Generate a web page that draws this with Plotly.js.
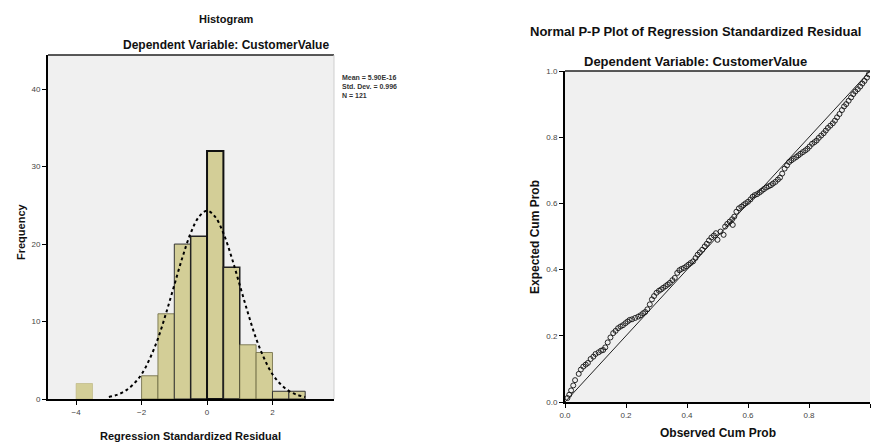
<!DOCTYPE html>
<html>
<head>
<meta charset="utf-8">
<script src="https://cdn.plot.ly/plotly-3.0.1.min.js"></script>
<style>html,body{margin:0;padding:0;background:#fff;}#chart{width:871px;height:446px;}</style>
</head>
<body>
<div id="chart"></div>
<script>
// ---- Histogram data ----
var binStart = [-4, -2, -1.5, -1, -0.5, 0, 0.5, 1, 1.5, 2, 2.5];
var binWidth = 0.5;
var frequency = [2, 3, 11, 20, 21, 32, 17, 7, 6, 1, 1];
// Normal curve
var curveX = [-3, -2.75, -2.5, -2.25, -2, -1.75, -1.5, -1.25, -1, -0.75, -0.5, -0.25, 0, 0.25, 0.5, 0.75, 1, 1.25, 1.5, 1.75, 2, 2.25, 2.5, 2.75, 3];
var curveY = [0.26, 0.54, 1.04, 1.9, 3.2, 5.2, 7.8, 11.1, 14.7, 18.3, 21.4, 23.5, 24.3, 23.5, 21.4, 18.3, 14.7, 11.1, 7.8, 5.2, 3.2, 1.9, 1.04, 0.54, 0.26];
var histXTicks = [-4, -2, 0, 2];
var histYTicks = [0, 10, 20, 30, 40];
var statsLines = ["Mean = 5.90E-16", "Std. Dev. = 0.996", "N = 121"];

// ---- P-P plot data ----
var observedCum = [0.008, 0.02, 0.033, 0.045, 0.06, 0.075, 0.093, 0.11, 0.125, 0.14, 0.158, 0.174, 0.19, 0.205, 0.22, 0.24, 0.256, 0.27, 0.285, 0.30, 0.315, 0.33, 0.344, 0.36, 0.375, 0.39, 0.405, 0.42, 0.435, 0.45, 0.465, 0.48, 0.495, 0.5, 0.51, 0.52, 0.525, 0.54, 0.55, 0.555, 0.57, 0.585, 0.60, 0.615, 0.63, 0.645, 0.66, 0.675, 0.69, 0.705, 0.72, 0.735, 0.75, 0.765, 0.78, 0.795, 0.81, 0.825, 0.84, 0.855, 0.87, 0.885, 0.90, 0.915, 0.93, 0.945, 0.96, 0.975, 0.99,
  0.014, 0.027, 0.052, 0.068, 0.084, 0.1, 0.118, 0.132, 0.149, 0.166, 0.182, 0.198, 0.212, 0.23, 0.248, 0.263, 0.278, 0.292, 0.308, 0.322, 0.337, 0.352, 0.368, 0.382, 0.398, 0.412, 0.428, 0.442, 0.458, 0.472, 0.488, 0.532, 0.548, 0.562, 0.578, 0.592, 0.608, 0.622, 0.638, 0.652, 0.668, 0.682, 0.698, 0.712, 0.728, 0.742, 0.758, 0.772, 0.788, 0.802, 0.818, 0.832, 0.848, 0.862, 0.878, 0.892, 0.908, 0.922, 0.938, 0.952, 0.968, 0.982, 0.996];
var expectedCum = [0.012, 0.035, 0.066, 0.085, 0.107, 0.118, 0.137, 0.15, 0.157, 0.18, 0.208, 0.223, 0.232, 0.243, 0.25, 0.258, 0.268, 0.28, 0.31, 0.33, 0.34, 0.35, 0.36, 0.375, 0.398, 0.405, 0.415, 0.425, 0.445, 0.46, 0.478, 0.497, 0.51, 0.49, 0.515, 0.505, 0.53, 0.545, 0.535, 0.56, 0.585, 0.595, 0.605, 0.62, 0.628, 0.638, 0.648, 0.655, 0.665, 0.678, 0.705, 0.725, 0.735, 0.745, 0.755, 0.765, 0.78, 0.79, 0.805, 0.82, 0.835, 0.85, 0.87, 0.893, 0.91, 0.93, 0.945, 0.962, 0.98,
  0.022, 0.05, 0.098, 0.113, 0.13, 0.145, 0.155, 0.165, 0.195, 0.215, 0.228, 0.238, 0.248, 0.254, 0.262, 0.272, 0.295, 0.32, 0.336, 0.345, 0.355, 0.368, 0.39, 0.402, 0.41, 0.42, 0.435, 0.452, 0.47, 0.488, 0.503, 0.538, 0.552, 0.575, 0.59, 0.6, 0.612, 0.625, 0.633, 0.643, 0.652, 0.66, 0.672, 0.69, 0.715, 0.73, 0.74, 0.75, 0.76, 0.772, 0.785, 0.798, 0.812, 0.828, 0.842, 0.86, 0.882, 0.9, 0.92, 0.938, 0.953, 0.97, 0.99];
var diagX = [0, 1];
var diagY = [0, 1];
var ppTicks = [0, 0.2, 0.4, 0.6, 0.8, 1.0];
var ppTickText = ["0.0", "0.2", "0.4", "0.6", "0.8", "1.0"];

// ---- Build ----
var W = 871, H = 446;
function px(x) { return x / W; }
function py(y) { return 1 - y / H; }

var binCenters = binStart.map(function (s) { return s + binWidth / 2; });
var lineW = [0.6, 0.8, 0.8, 1, 1.5, 2, 1.5, 0.8, 0.8, 1, 1];
var lineC = ["#b8b27a", "#6b6740", "#6b6740", "#333", "#222", "#111", "#222", "#6b6740", "#6b6740", "#333", "#333"];

var traces = [
  {
    type: "bar", x: binCenters, y: frequency, width: binWidth,
    marker: { color: "#d3ce97", line: { color: lineC, width: lineW } },
    xaxis: "x", yaxis: "y", hoverinfo: "x+y", showlegend: false
  },
  {
    type: "scatter", mode: "lines", x: curveX, y: curveY, line: { shape: "spline", color: "#000", width: 2, dash: "dot" },
    xaxis: "x", yaxis: "y", showlegend: false
  },
  {
    type: "scatter", mode: "lines", x: diagX, y: diagY, line: { color: "#222", width: 1 },
    xaxis: "x2", yaxis: "y2", showlegend: false
  },
  {
    type: "scatter", mode: "markers", x: observedCum, y: expectedCum,
    marker: { symbol: "circle-open", size: 5, color: "#111", line: { width: 0.9, color: "#111" } },
    xaxis: "x2", yaxis: "y2", showlegend: false
  }
];

var tickFont = { family: "Liberation Sans, Arial, sans-serif", size: 8, color: "#444" };
var axisCommon = {
  showgrid: false, zeroline: false, showline: true, linecolor: "#000", linewidth: 2,
  ticks: "outside", ticklen: 4, tickwidth: 1, tickcolor: "#000", tickfont: tickFont, fixedrange: true
};

var layout = {
  width: W, height: H,
  margin: { l: 0, r: 0, t: 0, b: 0 },
  paper_bgcolor: "#ffffff",
  plot_bgcolor: "#f0f0f0",
  showlegend: false,
  font: { family: "Liberation Sans, Arial, sans-serif", color: "#111" },
  xaxis: Object.assign({}, axisCommon, {
    domain: [px(48), px(334)], range: [-4.86, 3.88], tickvals: histXTicks, anchor: "y"
  }),
  yaxis: Object.assign({}, axisCommon, {
    domain: [py(399), py(55)], range: [0, 44.4], tickvals: histYTicks, anchor: "x"
  }),
  xaxis2: Object.assign({}, axisCommon, {
    domain: [px(565), px(870)], range: [0, 1], tickvals: ppTicks, ticktext: ppTickText, anchor: "y2"
  }),
  yaxis2: Object.assign({}, axisCommon, {
    domain: [py(402), py(71)], range: [0, 1], tickvals: ppTicks, ticktext: ppTickText, anchor: "x2"
  }),
  shapes: [
    { type: "line", xref: "paper", yref: "paper", x0: px(48), x1: px(334), y0: py(55), y1: py(55), line: { color: "#222", width: 1.5 } },
    { type: "line", xref: "paper", yref: "paper", x0: px(334), x1: px(334), y0: py(55), y1: py(399), line: { color: "#cfcfcf", width: 1 } },
    { type: "line", xref: "paper", yref: "paper", x0: px(565), x1: px(870), y0: py(71), y1: py(71), line: { color: "#222", width: 1.5 } }
  ],
  annotations: [
    { text: "<b>Histogram</b>", xref: "paper", yref: "paper", x: px(226), y: py(19), showarrow: false, font: { size: 11, color: "#111" }, xanchor: "center", yanchor: "middle" },
    { text: "<b>Dependent Variable: CustomerValue</b>", xref: "paper", yref: "paper", x: px(226), y: py(45), showarrow: false, font: { size: 12, color: "#111" }, xanchor: "center", yanchor: "middle" },
    { text: "<b>Regression Standardized Residual</b>", xref: "paper", yref: "paper", x: px(190), y: py(436), showarrow: false, font: { size: 11, color: "#111" }, xanchor: "center", yanchor: "middle" },
    { text: "<b>Frequency</b>", xref: "paper", yref: "paper", x: px(21), y: py(232), showarrow: false, textangle: -90, font: { size: 11, color: "#111" }, xanchor: "center", yanchor: "middle" },
    { text: "<b>" + statsLines.join("<br>") + "</b>", xref: "paper", yref: "paper", x: px(340), y: py(72), showarrow: false, align: "left", font: { size: 7, color: "#333" }, xanchor: "left", yanchor: "top" },
    { text: "<b>Normal P-P Plot of Regression Standardized Residual</b>", xref: "paper", yref: "paper", x: px(695), y: py(32), showarrow: false, font: { size: 13, color: "#111" }, xanchor: "center", yanchor: "middle" },
    { text: "<b>Dependent Variable: CustomerValue</b>", xref: "paper", yref: "paper", x: px(695), y: py(62), showarrow: false, font: { size: 13, color: "#111" }, xanchor: "center", yanchor: "middle" },
    { text: "<b>Observed Cum Prob</b>", xref: "paper", yref: "paper", x: px(718), y: py(433), showarrow: false, font: { size: 12, color: "#111" }, xanchor: "center", yanchor: "middle" },
    { text: "<b>Expected Cum Prob</b>", xref: "paper", yref: "paper", x: px(535), y: py(237), showarrow: false, textangle: -90, font: { size: 12, color: "#111" }, xanchor: "center", yanchor: "middle" }
  ]
};

Plotly.newPlot("chart", traces, layout, { displayModeBar: false, staticPlot: true });
</script>
</body>
</html>
